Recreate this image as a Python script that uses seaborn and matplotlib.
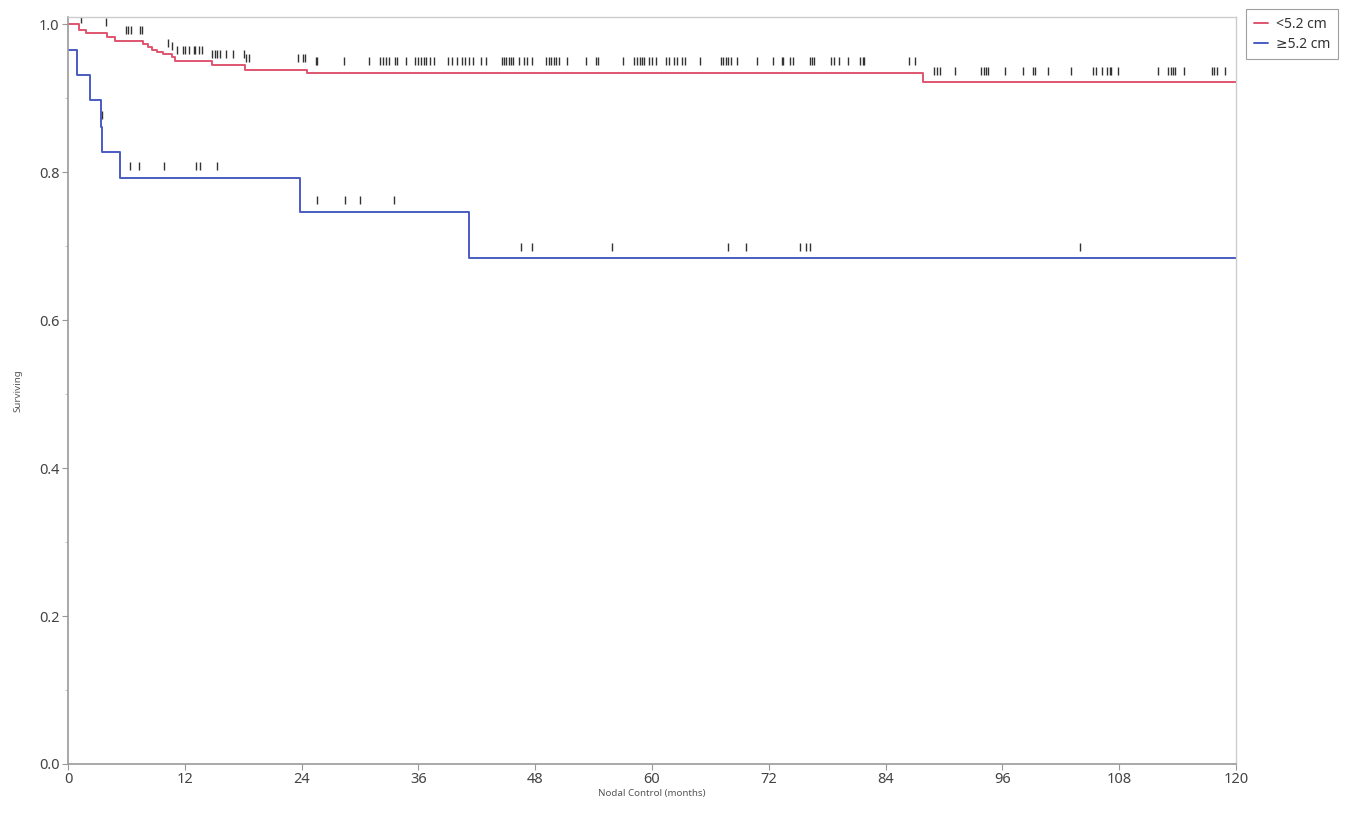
import numpy as np
import pandas as pd
import seaborn as sns
import matplotlib
matplotlib.use("Agg")
from matplotlib import pyplot as plt
from matplotlib.ticker import MultipleLocator

# survival steps (time in months, survival after the step)
red_times = [0, 1.1, 1.9, 4.0, 4.8, 7.7, 8.2, 8.6, 9.1, 9.8, 10.7, 11.0, 14.8, 18.2, 24.6, 87.8, 120]
red_surv = [1.0, 0.992, 0.988, 0.983, 0.977, 0.974, 0.970, 0.966, 0.963, 0.960, 0.956, 0.950, 0.945, 0.939, 0.935, 0.922, 0.922]

blue_times = [0, 0.9, 2.3, 3.4, 3.5, 5.3, 23.8, 41.2, 120]
blue_surv = [0.966, 0.932, 0.898, 0.862, 0.828, 0.793, 0.747, 0.684, 0.684]

# censored times
red_censor = [1.3, 3.9, 6.0, 6.2, 6.5, 7.4, 7.6, 10.3, 10.7, 11.2, 11.8, 12.0, 12.4, 12.9, 13.1, 13.5, 13.8,
              14.8, 15.1, 15.3, 15.6, 16.2, 17.0, 18.1, 18.3, 18.6, 23.6, 24.1, 24.3, 25.5, 25.6, 28.4, 30.9,
              32.1, 32.4, 32.7, 33.0, 33.6, 33.8, 34.7, 35.6, 36.0, 36.3, 36.6, 36.8, 37.2, 37.6, 39.0, 39.5,
              40.0, 40.5, 40.8, 41.2, 41.6, 42.4, 42.9, 44.6, 44.8, 45.0, 45.3, 45.5, 45.7, 46.3, 46.8, 47.2,
              47.7, 49.1, 49.4, 49.6, 49.9, 50.1, 50.4, 51.3, 53.2, 54.2, 54.5, 57.0, 58.2, 58.5, 58.8, 59.0,
              59.2, 59.7, 60.0, 60.4, 61.4, 61.7, 62.3, 62.6, 63.1, 63.4, 64.9, 67.1, 67.3, 67.6, 67.8, 68.1,
              68.7, 70.8, 72.4, 73.4, 73.5, 74.2, 74.5, 76.2, 76.4, 76.6, 78.4, 78.7, 79.2, 80.1, 81.4, 81.7,
              81.8, 86.4, 87.0, 89.0, 89.3, 89.6, 91.1, 93.8, 94.1, 94.3, 94.5, 96.3, 98.1, 99.1, 99.3, 100.7,
              103.0, 105.3, 105.6, 106.2, 106.7, 107.0, 107.2, 107.9, 112.0, 113.0, 113.3, 113.5, 113.7, 114.6,
              117.5, 117.7, 118.0, 118.9]
blue_censor = [3.45, 6.4, 7.3, 9.9, 13.2, 13.6, 15.3, 25.6, 28.5, 30.0, 33.5, 46.5, 47.7, 55.9, 67.8,
               69.7, 75.2, 75.8, 76.2, 104.0]

groups = ["<5.2 cm", "\u22655.2 cm"]
colors = {"<5.2 cm": "#e05570", "\u22655.2 cm": "#4a5cc0"}
x_ticks = [0, 12, 24, 36, 48, 60, 72, 84, 96, 108, 120]


def step_value(times, surv, t):
    idx = np.searchsorted(times, t, side="right") - 1
    return np.array(surv)[idx]


curves = pd.concat([
    pd.DataFrame({"time": red_times, "surv": red_surv, "group": groups[0]}),
    pd.DataFrame({"time": blue_times, "surv": blue_surv, "group": groups[1]}),
])
cens = pd.concat([
    pd.DataFrame({"time": red_censor, "surv": step_value(red_times, red_surv, red_censor) + 0.015}),
    pd.DataFrame({"time": blue_censor, "surv": step_value(blue_times, blue_surv, blue_censor) + 0.015}),
])

sns.set_style("white")
plt.rcParams["font.family"] = ["Noto Sans", "DejaVu Sans"]

fig = plt.figure(figsize=(13.54, 8.13), dpi=100)
ax = fig.add_axes([0.0502, 0.0603, 0.8627, 0.9187])

sns.lineplot(data=curves, x="time", y="surv", hue="group", palette=colors, hue_order=groups,
             estimator=None, drawstyle="steps-post", linewidth=1.4, ax=ax)
sns.scatterplot(data=cens, x="time", y="surv", marker="|", s=30, color="#333333",
                linewidth=1.0, ax=ax, legend=False)

ax.set_xlim(0, 120)
ax.set_ylim(0, 1.01)
ax.set_xticks(x_ticks)
ax.set_yticks([0, 0.2, 0.4, 0.6, 0.8, 1.0])
ax.set_yticklabels(["0.0", "0.2", "0.4", "0.6", "0.8", "1.0"])
ax.yaxis.set_minor_locator(MultipleLocator(0.1))
ax.tick_params(which="major", length=4, color="#999999", labelsize=10.5, labelcolor="#444444", pad=2,
               bottom=True, left=True)
ax.tick_params(which="minor", length=2, color="#bbbbbb", left=True)

for side in ["left", "bottom"]:
    ax.spines[side].set_color("#9a9a9a")
    ax.spines[side].set_linewidth(1.2)
for side in ["top", "right"]:
    ax.spines[side].set_color("#cccccc")
    ax.spines[side].set_linewidth(1.0)

ax.set_xlabel("Nodal Control (months)", fontsize=7, color="#555555", labelpad=1)
ax.set_ylabel("Surviving", fontsize=7, color="#555555", labelpad=12)

leg = ax.legend(loc="upper left", bbox_to_anchor=(1.0086, 1.0107), borderaxespad=0, fontsize=10,
                handlelength=1.0, handletextpad=0.6, frameon=True, fancybox=False,
                labelspacing=0.35, borderpad=0.55)
leg.get_frame().set_edgecolor("#888888")
leg.get_frame().set_linewidth(0.8)
for txt in leg.get_texts():
    txt.set_color("#333333")

plt.savefig("out.png", dpi=100)
